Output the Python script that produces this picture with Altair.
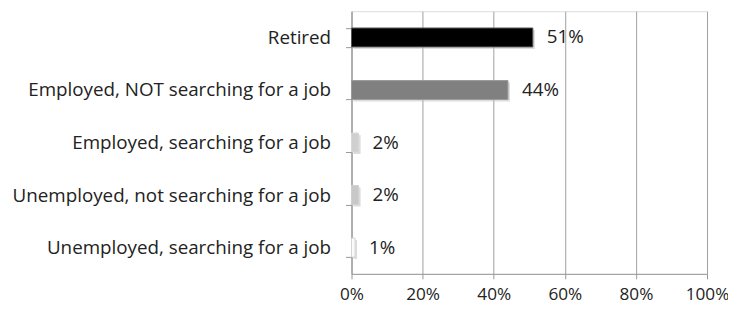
import altair as alt
import pandas as pd

categories = [
    "Retired",
    "Employed, NOT searching for a job",
    "Employed, searching for a job",
    "Unemployed, not searching for a job",
    "Unemployed, searching for a job",
]
values = [0.51, 0.44, 0.02, 0.02, 0.01]
labels = ["51%", "44%", "2%", "2%", "1%"]
fills = ["#000000", "#808080", "#cfcfcf", "#c8c8c8", "#fafafa"]
strokes = ["#555555", "#9a9a9a", "#d8d8d8", "#d0d0d0", "#d6d6d6"]

df = pd.DataFrame({"cat": categories, "val": values, "lab": labels,
                   "fill": fills, "stroke": strokes})

FONT = "Open Sans"
FS = 18.8

y = alt.Y("cat:N", sort=categories, title=None,
          scale=alt.Scale(paddingInner=0.64, paddingOuter=0.32),
          axis=alt.Axis(tickBand="extent", labelFontSize=FS, labelFont=FONT,
                        labelColor="#222222", labelPadding=15, tickSize=6,
                        tickColor="#999999", domainColor="#999999", grid=False,
                        labelLimit=400))
x = alt.X("val:Q", title=None,
          scale=alt.Scale(domain=[0, 1]),
          axis=alt.Axis(values=[0, 0.2, 0.4, 0.6, 0.8, 1.0], format=".0%",
                        labelFontSize=17.2, labelFont=FONT, labelColor="#222222",
                        labelPadding=7, tickSize=5, tickColor="#999999",
                        labelFlush=False, labelOverlap=False,
                        domainColor="#999999", gridColor="#a0a0a0",
                        gridWidth=1))

base = alt.Chart(df)

shadow = base.mark_bar(color="#bbbbbb", opacity=0.5, xOffset=2, yOffset=2).encode(
    x=x, y=y)
bars = base.mark_bar(strokeWidth=1).encode(
    x=x, y=y,
    fill=alt.Fill("fill:N", scale=None),
    stroke=alt.Stroke("stroke:N", scale=None))
text = base.mark_text(align="left", dx=14, fontSize=FS, font=FONT,
                      color="#222222").encode(x=x, y=y, text="lab:N")

chart = (shadow + bars + text).properties(
    width=356, height=263,
    autosize=alt.AutoSizeParams(type="none"),
    padding={"left": 344, "top": 3, "right": 21, "bottom": 31},
).configure_view(stroke=None).configure(background="white")

chart.save("out.html", embed_options={"renderer": "svg", "actions": False})
